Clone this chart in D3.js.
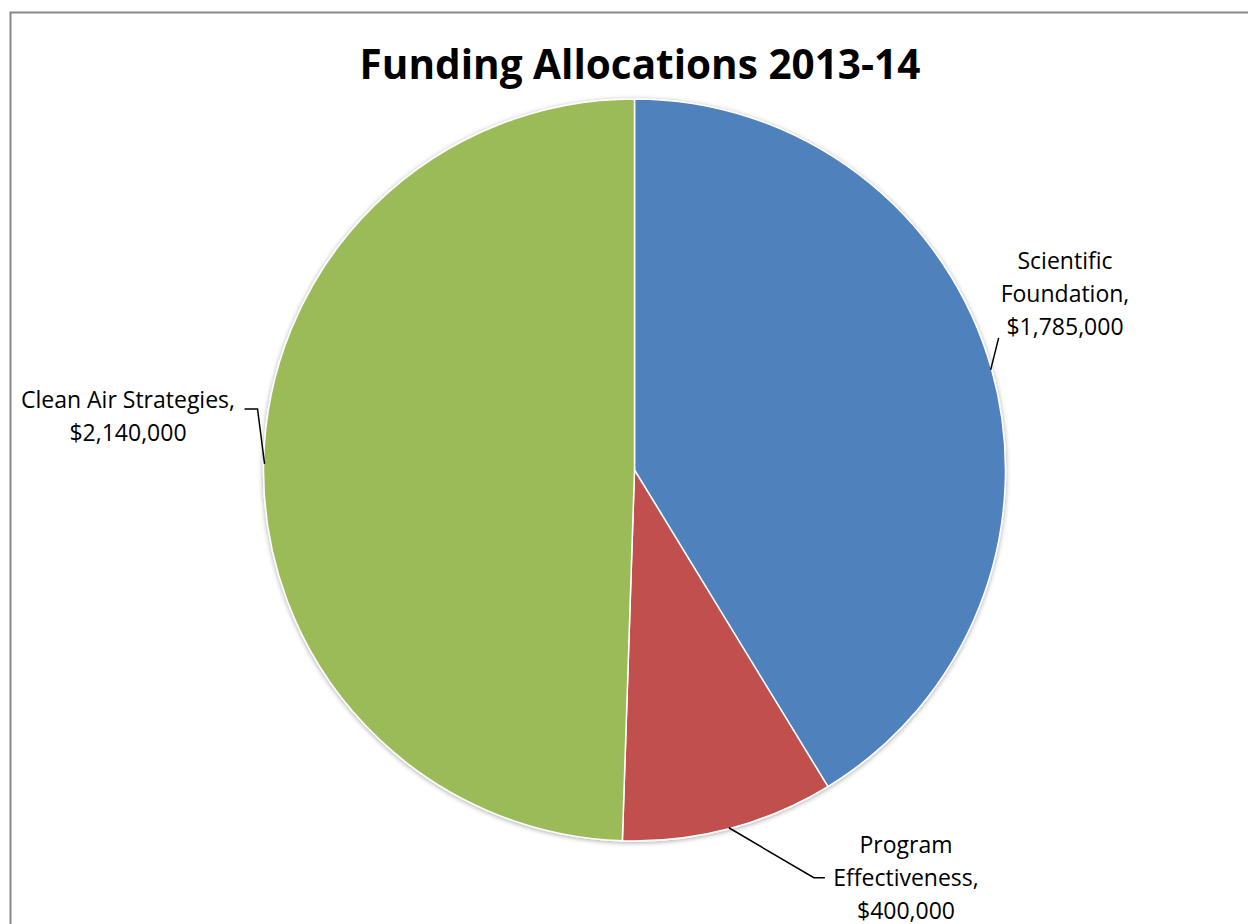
<!DOCTYPE html>
<html><head><meta charset="utf-8">
<script src="https://cdn.jsdelivr.net/npm/d3@7"></script>
<style>body{margin:0;background:#fff}svg{display:block}</style>
</head><body>
<svg id="c" width="1248" height="924"></svg>
<script>
const categories = ["Scientific Foundation", "Program Effectiveness", "Clean Air Strategies"];
const values = [1785000, 400000, 2140000];
const labelLines = [["Scientific", "Foundation,", "$1,785,000"], ["Program", "Effectiveness,", "$400,000"], ["Clean Air Strategies,", "$2,140,000"]];
const colors = ["#4F81BD", "#C0504D", "#9BBB59"];
const title = "Funding Allocations 2013-14";

const svg = d3.select("#c");
svg.append("rect").attr("x", 10.5).attr("y", 12.5).attr("width", 1300).attr("height", 1000)
  .attr("fill", "#fff").attr("stroke", "#888").attr("stroke-width", 2);

const font = "'Open Sans', sans-serif";
svg.append("text").attr("x", 640).attr("y", 79).attr("text-anchor", "middle")
  .attr("font-family", font).attr("font-weight", "bold")
  .attr("font-size", 40.5).attr("fill", "#000").text(title);

const cx = 634.5, cy = 470, R = 371;
const defs = svg.append("defs");
const f = defs.append("filter").attr("id", "sh").attr("x", "-10%").attr("y", "-10%").attr("width", "120%").attr("height", "120%");
f.append("feGaussianBlur").attr("in", "SourceAlpha").attr("stdDeviation", 2.5).attr("result", "b");
f.append("feOffset").attr("in", "b").attr("dx", 0).attr("dy", 1).attr("result", "o");
f.append("feComponentTransfer").attr("in", "o").attr("result", "o2").append("feFuncA").attr("type", "linear").attr("slope", 0.35);
const m = f.append("feMerge"); m.append("feMergeNode").attr("in", "o2"); m.append("feMergeNode").attr("in", "SourceGraphic");

const pie = d3.pie().sort(null).value(d => d)(values);
const arc = d3.arc().innerRadius(0).outerRadius(R);
const g = svg.append("g").attr("transform", `translate(${cx},${cy})`);
g.append("g").attr("filter", "url(#sh)").selectAll("path").data(pie).join("path")
  .attr("d", arc).attr("fill", (d, i) => colors[i]).attr("stroke", "#fff").attr("stroke-width", 1.5);

const mid = (d, r) => { const a = (d.startAngle + d.endAngle) / 2; return [Math.sin(a) * r, -Math.cos(a) * r]; };
const lineG = g.append("g").attr("fill", "none").attr("stroke", "#000").attr("stroke-width", 1.5);
{ const p = mid(pie[0], R - 1);
  lineG.append("path").attr("d", `M${p[0]},${p[1]} L${p[0] + 8},${p[1] - 32}`); }
{ const p = mid(pie[1], R - 1);
  lineG.append("path").attr("d", `M${p[0]},${p[1]} L${p[0] + 85},${p[1] + 50} L${p[0] + 96},${p[1] + 50}`); }
{ const p = mid(pie[2], R - 1);
  lineG.append("path").attr("d", `M${p[0]},${p[1]} L${p[0] - 7},${p[1] - 55} L${p[0] - 20},${p[1] - 55}`); }

const labelPos = [[1065, 269, "middle"], [906, 853, "middle"], [128, 408, "middle"]];
labelLines.forEach((lines, i) => {
  const t = svg.append("text").attr("font-family", font).attr("font-size", 23).attr("fill", "#000")
    .attr("text-anchor", labelPos[i][2]);
  lines.forEach((s, j) => t.append("tspan").attr("x", labelPos[i][0]).attr("y", labelPos[i][1] + j * 33).text(s));
});
</script>
</body></html>
